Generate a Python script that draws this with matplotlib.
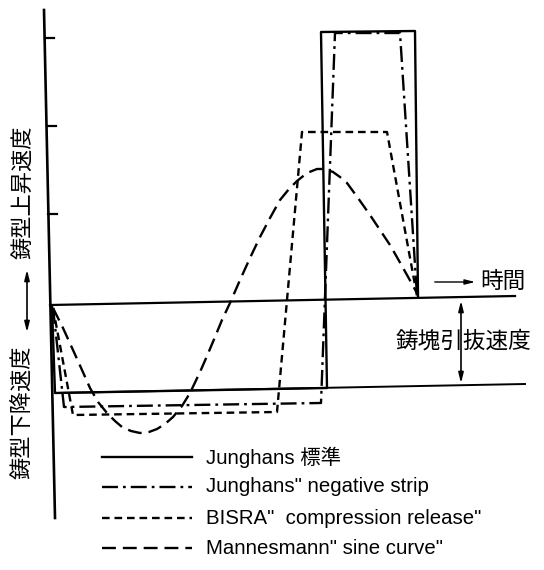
import matplotlib
matplotlib.use("Agg")
import matplotlib.pyplot as plt

plt.rcParams['font.family'] = ['Liberation Sans', 'Noto Sans CJK JP', 'DejaVu Sans']
plt.rcParams['lines.scale_dashes'] = False

# 座標は元図のピクセル位置 (x: 時間, y: 速度, 下向き正)
axis_x = [44, 55]
axis_y = [10, 518]
tick_y = [38, 126, 214]

zero_x = [50, 515]          # 速度ゼロ線 (時間軸)
zero_y = [305, 296]
strand_x = [55, 525]        # 鋳塊引抜速度
strand_y = [393, 384]

# Junghans 標準
std_x = [52, 55, 327, 321, 415, 418]
std_y = [306, 393, 388, 32, 31, 296]
# Junghans" negative strip
neg_x = [53, 64, 321, 335, 400, 417]
neg_y = [308, 407, 403, 33, 33, 296]
# BISRA" compression release"
bisra_x = [53, 73, 277, 302, 387, 417]
bisra_y = [308, 415, 412, 132, 132, 296]
# Mannesmann" sine curve"
sine_x = [53, 63, 73, 82, 90, 98, 107, 115, 122, 131, 140, 149, 157, 165,
          173, 182, 190, 200, 207, 215, 222, 230, 240, 250, 260, 270, 280,
          289, 297, 307, 317, 325, 333, 340, 347, 358, 370, 380, 390, 398,
          407, 417]
sine_y = [308, 328, 350, 370, 388, 402, 413, 421, 427, 431, 433, 432, 429, 424,
          417, 406, 393, 372, 356, 337, 320, 303, 280, 258, 237, 218, 200,
          189, 181, 173, 169, 169, 172, 177, 183, 198, 215, 230, 245, 259,
          275, 293]

legend_labels = ['Junghans 標準', 'Junghans" negative strip',
                 'BISRA"  compression release"', 'Mannesmann" sine curve"']
legend_y = [457, 487, 518, 548]

fig = plt.figure(figsize=(5.44, 5.70), dpi=100)
ax = fig.add_axes([0, 0, 1, 1])
ax.set_xlim(0, 544)
ax.set_ylim(570, 0)
ax.axis('off')

k = 'black'
ax.plot(axis_x, axis_y, color=k, lw=1.9)
for ty in tick_y:
    tx = axis_x[0] + (axis_x[1] - axis_x[0]) * (ty - axis_y[0]) / (axis_y[1] - axis_y[0])
    ax.plot([tx, tx + 9], [ty, ty], color=k, lw=1.6)
ax.plot(zero_x, zero_y, color=k, lw=1.6)
ax.plot(strand_x, strand_y, color=k, lw=1.4)

styles = [
    dict(ls='-'),
    dict(ls=(0, (11.5, 3.6, 2, 3.6))),
    dict(ls=(0, (5.5, 3.5))),
    dict(ls=(0, (10, 5))),
]
series = [(std_x, std_y), (neg_x, neg_y), (bisra_x, bisra_y), (sine_x, sine_y)]
for (xs, ys), st in zip(series, styles):
    ax.plot(xs, ys, color=k, lw=1.7, solid_joinstyle='round', **st)

# 凡例
for lab, ly, st in zip(legend_labels, legend_y, styles):
    ax.plot([102, 192], [ly, ly], color=k, lw=1.7, **st)
    ax.text(206, ly, lab, fontsize=14.7, va='center', ha='left')

# 矢印と注記
arr = dict(arrowstyle='-|>,head_length=0.6,head_width=0.15', color=k, lw=1.0)
ax.annotate('', xy=(478, 282), xytext=(432, 282), arrowprops=arr)
ax.text(480, 281, '時間', fontsize=16.3, va='center', ha='left')

darr = dict(arrowstyle='<|-|>,head_length=0.6,head_width=0.15', color=k, lw=1.2)
ax.annotate('', xy=(461, 298), xytext=(461, 386), arrowprops=darr)
ax.text(464, 341, '鋳塊引抜速度', fontsize=16.3, va='center', ha='center')

ax.annotate('', xy=(27, 267), xytext=(27, 335), arrowprops=darr)
ax.text(24, 192, '鋳型上昇速度', fontsize=16, rotation=90, va='center', ha='center')
ax.text(24, 412, '鋳型下降速度', fontsize=16, rotation=90, va='center', ha='center')

fig.savefig('out.png', dpi=100)
